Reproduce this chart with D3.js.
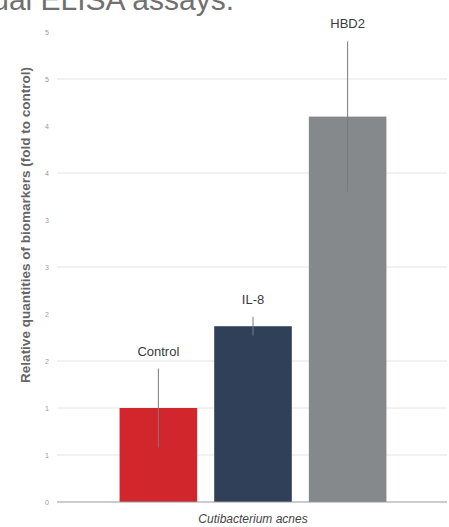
<!DOCTYPE html>
<html><head><meta charset="utf-8">
<script src="https://cdn.jsdelivr.net/npm/d3@7"></script>
<style>body{margin:0;background:#fff;}svg{display:block;font-family:Arial,"Liberation Sans",sans-serif;}</style>
</head><body>
<svg id="c" width="449" height="527"></svg>
<script>
const categories = ["Control", "IL-8", "HBD2"];
const values = [1.0, 1.87, 4.1];
const errors = [0.42, 0.1, 0.8];
const colors = ["#d0262c", "#2f4058", "#86898b"];
const tickValues = [0, 0.5, 1, 1.5, 2, 2.5, 3, 3.5, 4, 4.5, 5];
const gridValues = [0.5, 1, 1.5, 2.5, 3.5, 4.5];
const xTitle = "Cutibacterium acnes";
const yTitle = "Relative quantities of biomarkers (fold to control)";
const title = "Results of individual ELISA assays.";

const svg = d3.select("#c");
const y = d3.scaleLinear().domain([0, 5]).range([502, 32]);
const x = d3.scaleBand().domain(categories).range([59, 447]).paddingInner(0.18).paddingOuter(0.64);
const left = 57, right = 447;

// title (partially cut at the top, as in the reference)
svg.append("text").attr("x", 234).attr("y", 10).attr("text-anchor", "end")
  .attr("font-size", 30).attr("fill", "#707070").text(title);

// gridlines
svg.append("g").selectAll("line").data(gridValues).join("line")
  .attr("x1", left).attr("x2", right).attr("y1", d => y(d)).attr("y2", d => y(d))
  .attr("stroke", "#e4e4e4").attr("stroke-width", 1);

// y axis labels (values rounded to integers, as shown)
const yAxis = d3.axisLeft(y).tickValues(tickValues)
  .tickFormat(d => String(Math.floor(d + 0.5))).tickSize(0).tickPadding(0);
const ya = svg.append("g").attr("transform", "translate(49,0)").call(yAxis);
ya.select(".domain").remove();
ya.selectAll("text").attr("font-size", 7).attr("fill", "#9a9a9a").attr("text-anchor", "middle").attr("dx", -2);

// bars
svg.append("g").selectAll("rect").data(categories).join("rect")
  .attr("x", d => x(d)).attr("width", x.bandwidth())
  .attr("y", (d, i) => y(values[i])).attr("height", (d, i) => y(0) - y(values[i]))
  .attr("fill", (d, i) => colors[i]);

// error bars
svg.append("g").selectAll("line").data(categories).join("line")
  .attr("x1", d => x(d) + x.bandwidth() / 2).attr("x2", d => x(d) + x.bandwidth() / 2)
  .attr("y1", (d, i) => y(values[i] + errors[i])).attr("y2", (d, i) => y(values[i] - errors[i]))
  .attr("stroke", "#7a7a7a").attr("stroke-width", 1);

// bar labels
svg.append("g").selectAll("text").data(categories).join("text")
  .attr("x", d => x(d) + x.bandwidth() / 2)
  .attr("y", (d, i) => y(values[i] + errors[i]) - 13)
  .attr("text-anchor", "middle").attr("font-size", 13).attr("fill", "#3a3a3a").text(d => d);

// x axis baseline
svg.append("line").attr("x1", left).attr("x2", right).attr("y1", y(0)).attr("y2", y(0))
  .attr("stroke", "#999").attr("stroke-width", 1);

// x title
svg.append("text").attr("x", 253).attr("y", 523).attr("text-anchor", "middle")
  .attr("font-size", 12).attr("font-style", "italic").attr("fill", "#444").text(xTitle);

// y title
svg.append("text").attr("transform", "translate(30,225) rotate(-90)").attr("text-anchor", "middle")
  .attr("font-size", 13.5).attr("font-weight", "bold").attr("fill", "#666").text(yTitle);
</script>
</body></html>
